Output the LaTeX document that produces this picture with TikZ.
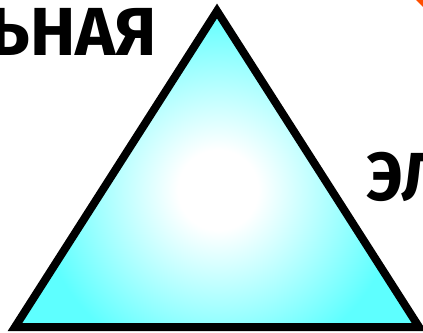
\documentclass[tikz,border=0pt]{standalone}
\usepackage{fontspec}
\setmainfont{Fira Sans}
\usepackage{xcolor}
\usepackage{tikz}
\usetikzlibrary{positioning}
\definecolor{cian}{HTML}{5EFFFF}
\definecolor{naranja}{HTML}{FF4E00}
\pgfdeclareradialshading{brillo}{\pgfpoint{0bp}{0bp}}{%
  color(0bp)=(white); color(4bp)=(white); color(18bp)=(cian); color(50bp)=(cian)}
\tikzset{
  palabra/.style={font=\fontsize{68}{68}\selectfont\bfseries,inner sep=0pt,text=black},
  marco/.style={line width=8pt,line join=miter,draw=black},
}
\begin{document}
\begin{tikzpicture}[x=1pt,y=-1pt]
\useasboundingbox (0,0) rectangle (423,332);
\clip (0,0) rectangle (423,332);
\coordinate (cima) at (217,11);
\coordinate (izqabajo) at (15,327);
\coordinate (derabajo) at (419,327);
% relleno del triangulo
\begin{scope}
\clip (cima) -- (izqabajo) -- (derabajo) -- cycle;
\shade[shading=brillo] (218,190) circle (250);
\end{scope}
\draw[marco] (cima) -- (izqabajo) -- (derabajo) -- cycle;
% palabras cortadas
\node[palabra,anchor=base east] (izq) at (157,55) {ЬНАЯ};
\node[palabra,anchor=base west] (der) at (366,200) {ЭЛ};
\fill[naranja] (416,0) -- (423,0) -- (423,7) -- cycle;
\end{tikzpicture}
\end{document}
